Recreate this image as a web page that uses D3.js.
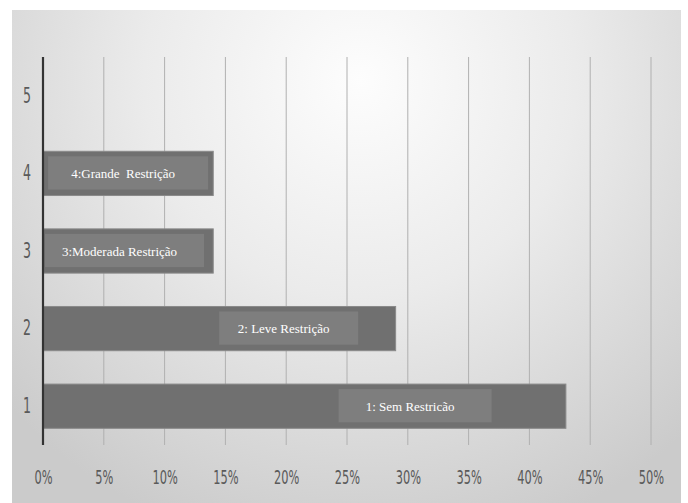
<!DOCTYPE html>
<html>
<head>
<meta charset="utf-8">
<title>Restrição</title>
<script src="https://d3js.org/d3.v7.min.js"></script>
<style>
  html, body { margin: 0; padding: 0; background: #fff; }
  svg { display: block; }
  .tick-label { font-family: "DejaVu Sans", sans-serif; font-weight: 400; fill: #5a5a5a; }
  .bar-label { font-family: "Liberation Serif", "DejaVu Serif", serif; fill: #fff; white-space: pre; }
</style>
</head>
<body>
<svg id="chart" width="688" height="503"></svg>
<script>
  // data
  const categories = ["1", "2", "3", "4", "5"];
  const values = [0.43, 0.29, 0.14, 0.14, null];
  const labels = ["1: Sem Restricão", "2: Leve Restrição", "3:Moderada Restrição", "4:Grande  Restrição", null];
  const xTicks = [0, 0.05, 0.1, 0.15, 0.2, 0.25, 0.3, 0.35, 0.4, 0.45, 0.5];
  // where the label boxes sit (centre, in axis units) and how wide they are
  const labelCentres = [0.306, 0.202, 0.067, 0.070, null];
  const labelWidths = [153, 139, 159, 160, null];

  const svg = d3.select("#chart");
  const defs = svg.append("defs");
  const grad = defs.append("radialGradient")
    .attr("id", "bg")
    .attr("gradientUnits", "userSpaceOnUse")
    .attr("cx", 360).attr("cy", 80).attr("r", 480);
  grad.append("stop").attr("offset", "0%").attr("stop-color", "#fdfdfd");
  grad.append("stop").attr("offset", "45%").attr("stop-color", "#ebebeb");
  grad.append("stop").attr("offset", "100%").attr("stop-color", "#cbcbcb");

  svg.append("rect")
    .attr("x", 12).attr("y", 10).attr("width", 669).attr("height", 493)
    .attr("fill", "url(#bg)");

  const x = d3.scaleLinear().domain([0, 0.5]).range([43, 651]);
  const y = d3.scaleBand().domain(categories.slice().reverse()).range([57, 445]).paddingInner(0.43).paddingOuter(0.215);

  // gridlines
  svg.append("g").selectAll("line")
    .data(xTicks.slice(1))
    .join("line")
    .attr("x1", d => x(d)).attr("x2", d => x(d))
    .attr("y1", 57).attr("y2", 445)
    .attr("stroke", "#b0b0b0")
    .attr("stroke-width", 1);

  // bars
  const rows = categories.map((c, i) => ({ c, v: values[i], label: labels[i], lc: labelCentres[i], lw: labelWidths[i] }))
    .filter(d => d.v != null);

  const bars = svg.append("g").selectAll("g")
    .data(rows)
    .join("g");

  bars.append("rect")
    .attr("x", x(0))
    .attr("y", d => y(d.c))
    .attr("width", d => x(d.v) - x(0))
    .attr("height", y.bandwidth())
    .attr("fill", "#707070")
    .attr("stroke", "#8a8a8a")
    .attr("stroke-width", 1);

  bars.append("rect")
    .attr("x", d => x(d.lc) - d.lw / 2)
    .attr("y", d => y(d.c) + 5)
    .attr("width", d => d.lw)
    .attr("height", y.bandwidth() - 11)
    .attr("fill", "#7e7e7e");

  bars.append("text")
    .attr("class", "bar-label")
    .attr("x", d => x(d.lc) - 5)
    .attr("y", d => y(d.c) + y.bandwidth() / 2 + 4.5)
    .attr("text-anchor", "middle")
    .attr("font-size", 13)
    .text(d => d.label);

  // x axis tick labels (narrow, like the original's light condensed face)
  const xAxis = d3.axisBottom(x).tickValues(xTicks).tickFormat(d3.format(".0%")).tickSize(0).tickPadding(0);
  const xg = svg.append("g").attr("transform", "translate(0,484)").call(xAxis);
  xg.select(".domain").remove();
  xg.selectAll("text").attr("class", "tick-label").attr("font-size", 19).attr("dy", 0)
    .attr("transform", "scale(0.6,1)");

  // y axis
  const yAxis = d3.axisLeft(y).tickSize(0).tickPadding(0);
  const yg = svg.append("g").attr("transform", `translate(${x(0)},0)`).call(yAxis);
  yg.select(".domain").attr("stroke", "#333").attr("stroke-width", 2.2).attr("d", "M0,57V445");
  yg.selectAll("text").attr("class", "tick-label").attr("font-size", 21)
    .attr("text-anchor", "middle").attr("x", 0)
    .attr("transform", "translate(-16,0) scale(0.6,1)");
</script>
</body>
</html>
